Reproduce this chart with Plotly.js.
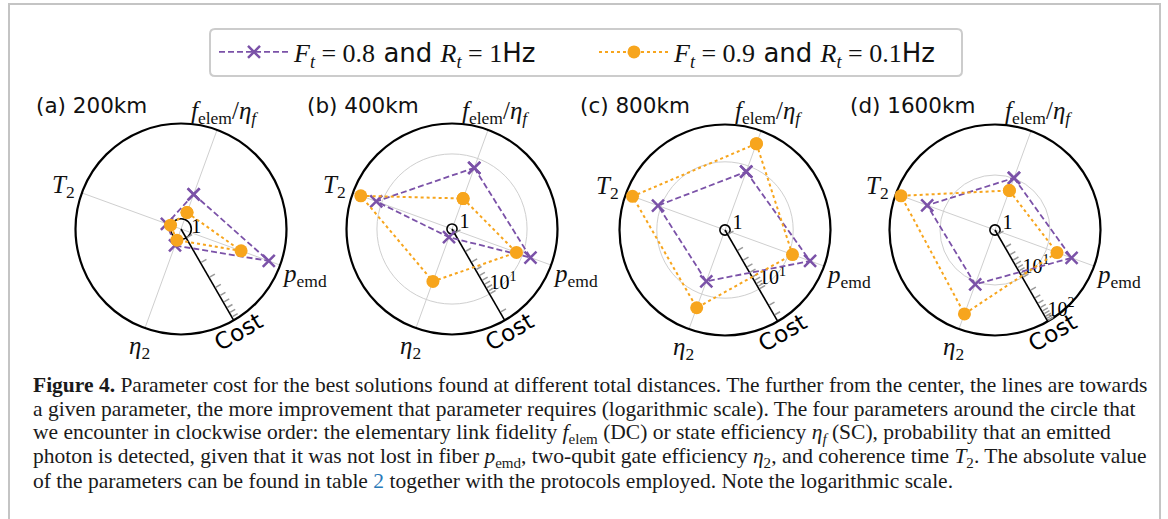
<!DOCTYPE html>
<html><head><meta charset="utf-8">
<script src="https://cdn.plot.ly/plotly-3.0.1.min.js"></script>
<style>html,body{margin:0;padding:0;background:#fff}</style>
</head><body><div id="chart" style="width:1168px;height:519px"></div>
<script>
// ---------------- data ----------------
const params = ['felem', 'pemd', 'eta2', 'T2'];
const paramLabels = ['<i>f</i><sub>elem</sub>/<i>η</i><sub><i>f</i></sub>', '<i>p</i><sub>emd</sub>', '<i>η</i><sub>2</sub>', '<i>T</i><sub>2</sub>'];
const panelTitles = ['(a) 200km', '(b) 400km', '(c) 800km', '(d) 1600km'];
const seriesNames = [
  '<span style="font-family:Liberation Serif"><i>F</i><sub><i>t</i></sub> = 0.8</span> and <span style="font-family:Liberation Serif"><i>R</i><sub><i>t</i></sub> = 1</span>Hz',
  '<span style="font-family:Liberation Serif"><i>F</i><sub><i>t</i></sub> = 0.9</span> and <span style="font-family:Liberation Serif"><i>R</i><sub><i>t</i></sub> = 0.1</span>Hz'
];
// values per panel, order: felem, pemd, eta2, T2
const purple200 = [1.9, 7.4, 1.19, 1.12];
const purple400 = [7.2, 13.2, 1.13, 12.0];
const purple800 = [8.0, 22.6, 6.1, 11.2];
const purple1600 = [10.2, 34, 11.4, 22.1];
const orange200 = [1.19, 3.64, 1.04, 1.02];
const orange400 = [2.46, 8.07, 5.3, 20.6];
const orange800 = [23.7, 11.4, 17, 30.1];
const orange1600 = [5.5, 16.6, 48.8, 80];
const radialMin = [0.78, 0.847, 0.83, 0.79];
const radialMax = [9.9, 27.2, 39, 103];
const costTicks = [1, 2, 3, 4, 5, 6, 7, 8, 9, 10, 20, 30, 40, 50, 60, 70, 80, 90, 100];
const costLabelVals = [1, 10, 100];
const costLabelText = ['\u00a01', '10<sup>1</sup>', '10<sup>2</sup>'];
const purpleSets = [purple200, purple400, purple800, purple1600];
const orangeSets = [orange200, orange400, orange800, orange1600];

const captionLines = [
  '<b>Figure 4.</b> Parameter cost for the best solutions found at different total distances. The further from the center, the lines are towards',
  'a given parameter, the more improvement that parameter requires (logarithmic scale). The four parameters around the circle that',
  'we encounter in clockwise order: the elementary link fidelity <i>f</i><sub>elem</sub> (DC) or state efficiency <i>η</i><sub><i>f</i></sub> (SC), probability that an emitted',
  'photon is detected, given that it was not lost in fiber <i>p</i><sub>emd</sub>, two-qubit gate efficiency <i>η</i><sub>2</sub>, and coherence time <i>T</i><sub>2</sub>. The absolute value',
  'of the parameters can be found in table <span style="color:#2a7ab8">2</span> together with the protocols employed. Note the logarithmic scale.'
];

// ---------------- layout helpers ----------------
const W = 1168, H = 519;
const px = x => x / W, py = y => 1 - y / H;
const centers = [[181, 229], [452, 229], [725, 230], [995, 230]];
const R = 105.5;
const COST_ANGLE = -60;             // radial (Cost) axis direction, degrees counterclockwise from east
const COST_THETA = 90 - COST_ANGLE; // same direction on a clockwise axis starting at the top
const PURPLE = '#7b52a8', ORANGE = '#f7a51d';
const SERIF = 'Liberation Serif', SANS = 'DejaVu Sans';

const traces = [];
const legendBase = {orientation: 'h', yanchor: 'middle', y: py(52), xanchor: 'left',
  font: {family: SANS, size: 26, color: '#111'}, bgcolor: 'rgba(0,0,0,0)', itemwidth: 70};
const layout = {
  width: W, height: H,
  margin: {l: 0, r: 0, t: 0, b: 0, autoexpand: false},
  paper_bgcolor: '#fff',
  showlegend: true,
  legend: Object.assign({}, legendBase, {x: px(214)}),
  legend2: Object.assign({}, legendBase, {x: px(594)}),
  annotations: [],
  shapes: []
};

function angAxis(visible) {
  return {
    type: 'category', categoryarray: params, categoryorder: 'array',
    rotation: 70, direction: 'clockwise', visible: visible,
    showline: true, linecolor: '#000', linewidth: 2.2,
    showgrid: true, gridcolor: '#cfcfcf', gridwidth: 1,
    showticklabels: false, ticks: ''
  };
}

centers.forEach((c, i) => {
  const [cx, cy] = c;
  const dom = {x: [px(cx - R), px(cx + R)], y: [py(cy + R), py(cy - R)]};
  const range = [Math.log10(radialMin[i]), Math.log10(radialMax[i])];
  const idG = i * 3 + 1, idO = i * 3 + 2, idD = i * 3 + 3;
  const key = n => (n === 1 ? 'polar' : 'polar' + n);

  // grid subplot: spokes, outer circle, gray circle at 10
  layout[key(idG)] = {
    domain: dom, bgcolor: '#fff',
    angularaxis: angAxis(true),
    radialaxis: {type: 'log', range: range, tickvals: [10], showgrid: true, gridcolor: '#cfcfcf', gridwidth: 1,
      showline: false, showticklabels: false, ticks: ''}
  };
  // ring subplot: black circle at 1, and the Cost tick labels
  layout[key(idO)] = {
    domain: dom, bgcolor: 'rgba(0,0,0,0)',
    angularaxis: {type: 'linear', rotation: 90, direction: 'clockwise', visible: false},
    radialaxis: {type: 'log', range: range, tickvals: [1], showgrid: true, gridcolor: '#000', gridwidth: 1.6,
      showline: false, showticklabels: false, ticks: ''}
  };
  // data subplot with Cost axis
  layout[key(idD)] = {
    domain: dom, bgcolor: 'rgba(0,0,0,0)',
    angularaxis: angAxis(false),
    radialaxis: {type: 'log', range: range, angle: COST_ANGLE, side: 'counterclockwise',
      showline: true, linecolor: '#000', linewidth: 1.6,
      showgrid: false, tickvals: costTicks, showticklabels: false, ticks: 'outside', ticklen: 6,
      tickwidth: 1.5, tickcolor: '#9a9a9a', layer: 'below traces'}
  };

  traces.push({
    type: 'scatterpolar', subplot: key(idG), r: params.map(() => 1), theta: params,
    mode: 'markers', marker: {opacity: 0, size: 1}, hoverinfo: 'skip', showlegend: false
  });
  const keep = costLabelVals.map((v, k) => k).filter(k => costLabelVals[k] >= radialMin[i] && costLabelVals[k] <= radialMax[i]);
  traces.push({
    type: 'scatterpolar', subplot: key(idO), r: keep.map(k => costLabelVals[k]), theta: keep.map(() => COST_THETA),
    text: keep.map(k => costLabelText[k]), mode: 'text', textposition: 'top right', cliponaxis: false,
    textfont: {family: SERIF, size: 20, color: '#000'}, hoverinfo: 'skip', showlegend: false
  });

  const pv = purpleSets[i], ov = orangeSets[i];
  traces.push({
    type: 'scatterpolar', subplot: key(idD), name: seriesNames[0], legend: 'legend', showlegend: i === 0,
    r: pv.concat([pv[0]]), theta: params.concat([params[0]]), mode: 'lines+markers',
    line: {color: PURPLE, width: 1.8, dash: '6px,3px'},
    marker: {symbol: 'x-thin', size: 12, color: PURPLE, line: {color: PURPLE, width: 2.5}}
  });
  traces.push({
    type: 'scatterpolar', subplot: key(idD), name: seriesNames[1], legend: 'legend2', showlegend: i === 0,
    r: ov.concat([ov[0]]), theta: params.concat([params[0]]), mode: 'lines+markers',
    line: {color: ORANGE, width: 2, dash: 'dot'},
    marker: {symbol: 'circle', size: 13, color: ORANGE}
  });

  // labels
  const A = layout.annotations;
  const ann = (x, y, text, opts) => A.push(Object.assign({xref: 'paper', yref: 'paper', x: px(x), y: py(y), text: text,
    showarrow: false, font: {family: SERIF, size: 25, color: '#111'}}, opts || {}));
  ann(cx - 147, 105, panelTitles[i], {xanchor: 'left', yanchor: 'middle', font: {family: SANS, size: 21.5, color: '#111'}});
  ann(cx + 43, 113, paramLabels[0], {xanchor: 'center', yanchor: 'middle'});
  ann(cx + 99, cy + 46, paramLabels[1], {xanchor: 'left', yanchor: 'middle'});
  ann(cx - 42, cy + 118, paramLabels[2], {xanchor: 'center', yanchor: 'middle'});
  ann(cx - 118, cy - 42, paramLabels[3], {xanchor: 'center', yanchor: 'middle'});
  ann(cx + 57, cy + 103, 'Cost', {xanchor: 'center', yanchor: 'middle', textangle: -30, font: {family: SANS, size: 23, color: '#000'}});
});

// caption
captionLines.forEach((t, k) => {
  layout.annotations.push({xref: 'paper', yref: 'paper', x: px(31), y: py(385 + 24 * k), xanchor: 'left', yanchor: 'middle',
    text: t, showarrow: false, font: {family: SERIF, size: 21.5, color: '#1a1a1a'}});
});

// outer frame and legend box
layout.shapes.push({type: 'rect', xref: 'paper', yref: 'paper', x0: px(9), x1: px(1160), y0: py(540), y1: py(4),
  line: {color: '#c4c4c4', width: 2}, layer: 'below'});
(function () {
  const x0 = 210, x1 = 962, y0 = 29, y1 = 76, r = 5;
  const d = `M ${px(x0 + r)} ${py(y0)} L ${px(x1 - r)} ${py(y0)} Q ${px(x1)} ${py(y0)} ${px(x1)} ${py(y0 + r)} ` +
    `L ${px(x1)} ${py(y1 - r)} Q ${px(x1)} ${py(y1)} ${px(x1 - r)} ${py(y1)} L ${px(x0 + r)} ${py(y1)} ` +
    `Q ${px(x0)} ${py(y1)} ${px(x0)} ${py(y1 - r)} L ${px(x0)} ${py(y0 + r)} Q ${px(x0)} ${py(y0)} ${px(x0 + r)} ${py(y0)} Z`;
  layout.shapes.push({type: 'path', xref: 'paper', yref: 'paper', path: d, line: {color: '#cccccc', width: 2}, layer: 'below'});
})();

Plotly.newPlot('chart', traces, layout, {staticPlot: true, displayModeBar: false});
</script></body></html>
